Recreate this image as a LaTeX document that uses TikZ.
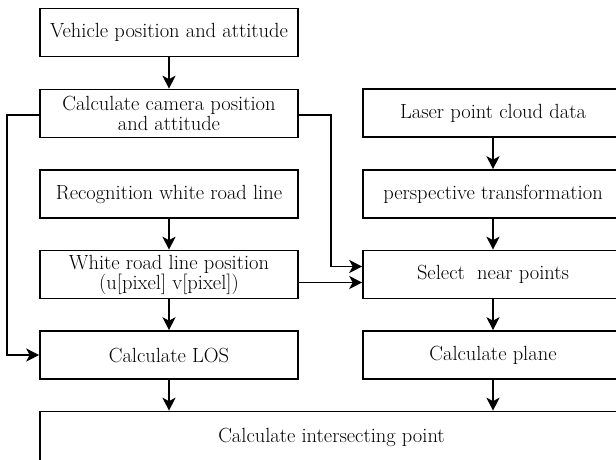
\documentclass[tikz,border=0pt]{standalone}
\usepackage{fontspec}
\setmainfont{Latin Modern Roman}
\usetikzlibrary{arrows.meta}
\begin{document}
\begin{tikzpicture}[x=1pt,y=-1pt,
  box/.style={draw, line width=1.6pt, minimum width=258pt, minimum height=48pt,
    align=center, inner sep=0pt, font=\fontsize{20.5}{20}\selectfont},
  arr/.style={line width=1.6pt, -{Stealth[length=13pt,width=13pt,inset=3.5pt]}}]
\useasboundingbox (0,0) rectangle (616,459);
\clip (0,0) rectangle (616,459);
\node[box] (veh) at (169,32.5) {Vehicle position and attitude};
\node[box] (cam) at (169,113.5) {Calculate camera position\\and attitude};
\node[box] (rec) at (169,194) {Recognition white road line};
\node[box] (white) at (169,274.5) {White road line position\\(u[pixel] v[pixel])};
\node[box] (los) at (169,355) {Calculate LOS};
\node[box,minimum width=260pt] (laser) at (493,113) {Laser point cloud data};
\node[box,minimum width=260pt] (persp) at (493,194) {perspective transformation};
\node[box,minimum width=260pt] (sel) at (493,274.5) {Select\ \ near points};
\node[box,minimum width=260pt] (plane) at (493,355) {Calculate plane};
\node[box,minimum width=583pt,minimum height=52pt] (isect) at (331.5,437.5) {Calculate intersecting point};
\draw[arr] (veh) -- (cam);
\draw[arr] (rec) -- (white);
\draw[arr] (white) -- (los);
\draw[arr] (los.south) -- (los.south |- isect.north);
\draw[arr] (laser) -- (persp);
\draw[arr] (persp) -- (sel);
\draw[arr] (sel) -- (plane);
\draw[arr] (plane.south) -- (plane.south |- isect.north);
\draw[arr] ([yshift=-1.5pt]cam.west) -- ++(-32,0) |- (los.west);
\draw[arr] ([yshift=-1.5pt]cam.east) -- ++(32,0) |- ([yshift=8pt]sel.west);
\draw[arr] ([yshift=-8pt]white.east) -- ([yshift=-8pt]sel.west);
\end{tikzpicture}
\end{document}
